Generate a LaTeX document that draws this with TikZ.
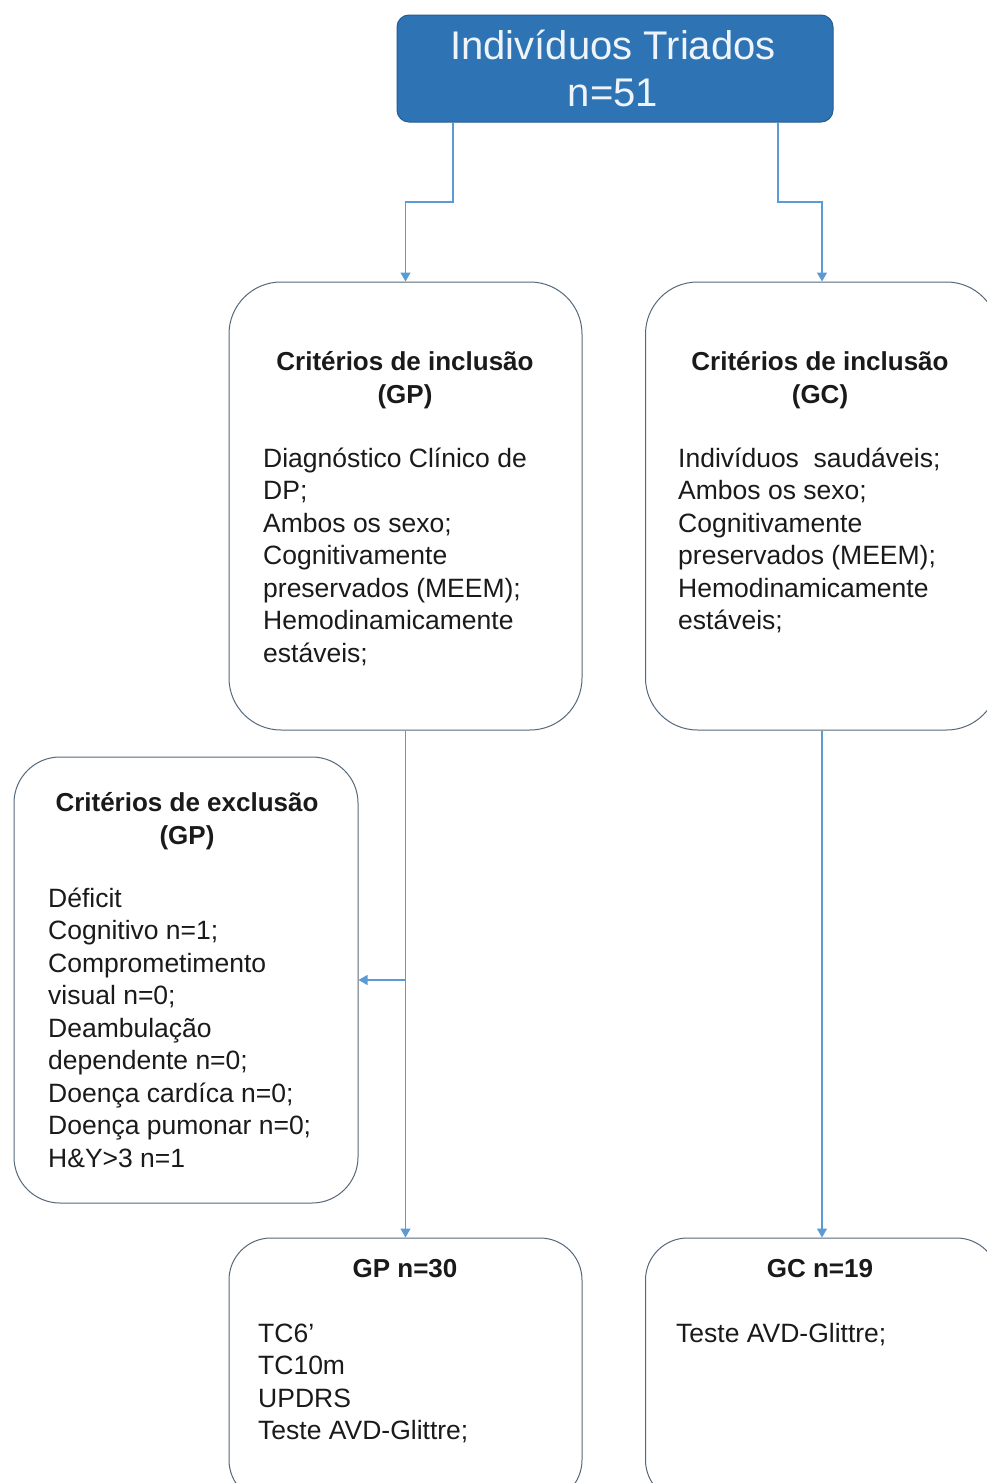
\documentclass[tikz,border=0pt]{standalone}
\usepackage{fontspec}
\setmainfont{Liberation Sans}
\usetikzlibrary{arrows.meta}
\definecolor{titleblue}{HTML}{2E74B5}
\definecolor{arrowblue}{HTML}{5B9BD5}
\definecolor{boxline}{HTML}{55687A}
\definecolor{txt}{HTML}{1A1A1A}
\tikzset{
  x=1pt, y=1pt,
  box/.style={draw=boxline, line width=1pt, fill=white, rectangle, inner sep=0pt},
  arr/.style={draw=arrowblue, line width=1.2pt, -{Triangle[width=10pt,length=9pt]}},
  head/.style={font=\fontsize{26}{33}\selectfont\bfseries, text=txt, align=center, inner sep=0pt, anchor=base},
  body/.style={font=\fontsize{26.5}{32.5}\selectfont, text=txt, align=left, inner sep=0pt, anchor=base west},
}
\begin{document}
\begin{tikzpicture}
\clip (0,0) rectangle (987,-1483);
\fill[white] (0,0) rectangle (987,-1483);

% boxes
\node[box, fill=titleblue, draw=titleblue!80!black, rounded corners=12pt, minimum width=436pt, minimum height=107pt] (top) at (615,-68.5) {};
\node[box, rounded corners=52pt, minimum width=353pt, minimum height=448pt] (incGP) at (405.5,-506) {};
\node[box, rounded corners=52pt, minimum width=353pt, minimum height=448pt] (incGC) at (822,-506) {};
\node[box, rounded corners=46pt, minimum width=344pt, minimum height=446pt] (exc) at (186,-980) {};
\node[box, rounded corners=42pt, minimum width=353pt, minimum height=264pt] (gp) at (405.5,-1370) {};
\node[box, rounded corners=42pt, minimum width=353pt, minimum height=264pt] (gc) at (822,-1370) {};

% texts (anchor base = baseline of the last line)
\node[font=\fontsize{40}{47.5}\selectfont, text=white!92!titleblue, align=center, inner sep=0pt, anchor=base] (ttl) at (613,-106.5) {Indivíduos Triados\\n=51};

\node[head] (hGP) at (405,-403) {Critérios de inclusão\\(GP)};
\node[body] (bGP) at (263,-662) {Diagnóstico Clínico de\\DP;\\Ambos os sexo;\\Cognitivamente\\preservados (MEEM);\\Hemodinamicamente\\estáveis;};

\node[head] (hGC) at (820,-403) {Critérios de inclusão\\(GC)};
\node[body] (bGC) at (678,-629.5) {Indivíduos\ \ saudáveis;\\Ambos os sexo;\\Cognitivamente\\preservados (MEEM);\\Hemodinamicamente\\estáveis;};

\node[head] (hEx) at (187,-844) {Critérios de exclusão\\(GP)};
\node[body] (bEx) at (48,-1167) {Déficit\\Cognitivo n=1;\\Comprometimento\\visual n=0;\\Deambulação\\dependente n=0;\\Doença cardíca n=0;\\Doença pumonar n=0;\\H\&Y>3 n=1};

\node[head] (hGPn) at (405,-1277) {GP n=30};
\node[body] (bGPn) at (258,-1439.5) {TC6’\\TC10m\\UPDRS\\Teste AVD-Glittre;};

\node[head] (hGCn) at (820,-1277) {GC n=19};
\node[body] (bGCn) at (676,-1342) {Teste AVD-Glittre;};

% connectors
\coordinate (jL) at (405.5,-202);
\coordinate (jR) at (822,-202);
\draw[arr] ([xshift=-162pt]top.south) |- (jL) -- (incGP.north);
\draw[arr] ([xshift=163pt]top.south) |- (jR) -- (incGC.north);
\draw[arr] (incGP.south) -- (gp.north);
\draw[arr] (incGP.south |- exc.east) -- (exc.east);
\draw[arr] (incGC.south) -- (gc.north);
\end{tikzpicture}
\end{document}
